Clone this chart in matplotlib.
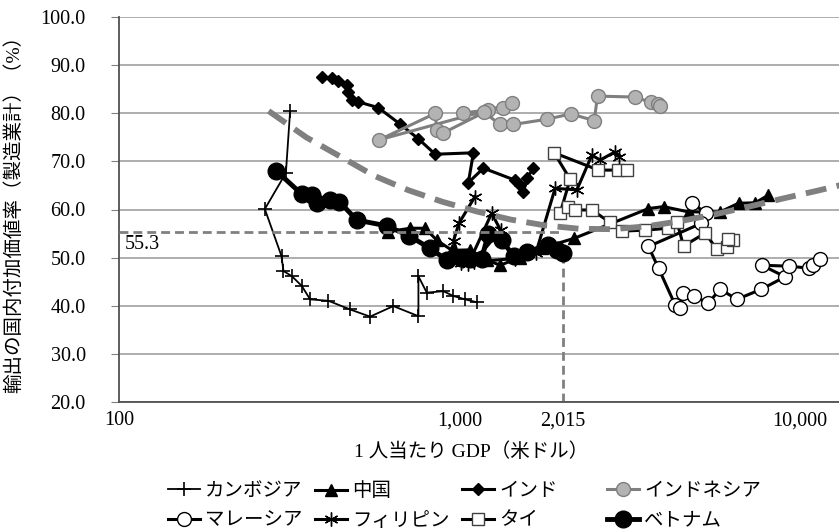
import numpy as np
import matplotlib
matplotlib.use("Agg")
import matplotlib.pyplot as plt
from matplotlib.ticker import FormatStrFormatter, NullLocator

plt.rcParams['font.family'] = ['Liberation Serif', 'Noto Sans CJK JP']

# 1人当たりGDP (米ドル) と 輸出の国内付加価値率 (%)
cam_x = [318, 309, 268, 300, 304, 322, 344, 364, 412, 477, 546, 639, 757, 757, 801, 896, 959, 1038, 1123]
cam_y = [80.5, 67.6, 60.1, 50.3, 47.2, 46.1, 44.1, 41.3, 41.0, 39.2, 37.7, 39.9, 37.8, 46.1, 42.7, 43.0, 42.0, 41.3, 40.7]

chn_x = [618, 716, 793, 857, 950, 1074, 1200, 1316, 1500, 1750, 2170, 3586, 3970, 4700, 5820, 6590, 7380, 8070]
chn_y = [55.4, 56.1, 56.1, 53.6, 51.5, 51.6, 49.5, 48.4, 50.0, 52.0, 54.0, 60.2, 60.6, 59.5, 59.5, 61.3, 61.4, 63.0]

ind_x = [394, 421, 441, 466, 471, 482, 504, 577, 668, 757, 848, 1098, 1061, 1175, 1455, 1506, 1540, 1575, 1648]
ind_y = [87.6, 87.3, 86.8, 85.9, 84.5, 82.8, 82.4, 81.2, 77.8, 74.7, 71.5, 71.8, 65.6, 68.6, 66.1, 65.1, 63.7, 66.5, 68.6]

idn_x = [1026, 1345, 1422, 1215, 581, 848, 857, 893, 1180, 1315, 1438, 1811, 2121, 2484, 2541, 3277, 3643, 3836, 3870]
idn_y = [80.1, 81.1, 82.1, 80.7, 74.5, 80.0, 76.5, 75.9, 80.2, 77.7, 77.7, 78.8, 79.9, 78.5, 83.6, 83.4, 82.3, 81.9, 81.6]

mys_x = [4808, 5297, 5120, 3585, 3837, 4297, 4442, 4543, 4862, 5380, 5823, 6520, 7685, 9036, 7710, 9300, 10580, 10940, 11450]
mys_y = [61.4, 59.2, 57.1, 52.3, 47.8, 40.1, 39.4, 42.7, 41.9, 40.6, 43.4, 41.3, 43.4, 46.0, 48.4, 48.2, 47.8, 48.5, 49.6]

phl_x = [1110, 995, 960, 1010, 1030, 1060, 1242, 1320, 1100, 1455, 1674, 1907, 2210, 2445, 2586, 2862, 2946]
phl_y = [62.7, 57.1, 53.5, 48.8, 49.5, 48.6, 59.2, 55.7, 49.1, 49.8, 50.9, 64.4, 64.1, 71.3, 70.3, 72.0, 71.0]

tha_x = [2927, 3100, 2557, 1895, 2111, 1972, 2087, 2183, 2445, 2766, 2993, 3506, 4100, 4343, 4545, 5265, 5690, 6090, 6370, 6150]
tha_y = [68.2, 68.2, 68.2, 71.8, 66.3, 59.2, 60.6, 59.9, 59.9, 57.3, 55.5, 55.7, 56.1, 57.5, 52.4, 55.1, 51.7, 52.1, 53.7, 53.9]

vnm_x = [289, 344, 368, 381, 417, 444, 499, 611, 712, 819, 917, 1010, 1074, 1161, 1215, 1331, 1440, 1575, 1823, 1929, 2015]
vnm_y = [68.1, 63.2, 63.0, 61.3, 62.0, 61.6, 57.8, 56.6, 54.5, 51.9, 49.5, 50.0, 49.6, 49.8, 55.0, 53.6, 50.3, 51.2, 52.6, 51.6, 50.9]

# 近似曲線 (読み取り値)
trend_x = [275, 355, 447, 562, 708, 891, 1122, 1413, 1778, 2239, 2818, 3548, 4467, 5623, 7079, 8913, 11220, 13180]
trend_y = [80.5, 75.0, 71.0, 67.0, 64.0, 61.6, 59.6, 57.9, 56.7, 56.0, 55.9, 56.5, 57.6, 59.0, 60.6, 62.3, 63.9, 65.1]

ref_gdp = 2015
ref_val = 55.3

names = ['カンボジア', '中国', 'インド', 'インドネシア', 'マレーシア', 'フィリピン', 'タイ', 'ベトナム']

fig = plt.figure(figsize=(8.39, 5.29), dpi=100)
ax = fig.add_axes([119/839, 1-401.7/529, 720/839, 384.4/529])
ax.set_xscale('log')

h = []
h += ax.plot(cam_x, cam_y, color='black', lw=1.3, marker='+', ms=10, mew=1.2)
h += ax.plot(chn_x, chn_y, color='black', lw=2.2, marker='^', ms=8)
h += ax.plot(ind_x, ind_y, color='black', lw=2.2, marker='D', ms=6.5)
h += ax.plot(idn_x, idn_y, color='#7f7f7f', lw=2.2, marker='o', ms=10, mfc='#b3b3b3', mec='#7f7f7f', mew=1)
h += ax.plot(mys_x, mys_y, color='black', lw=2.2, marker='o', ms=10, mfc='white', mec='black', mew=1)
h += ax.plot(phl_x, phl_y, color='black', lw=2.2, marker=(6, 2, 0), ms=10, mew=1)
h += ax.plot(tha_x, tha_y, color='black', lw=2.2, marker='s', ms=9, mfc='white', mec='#404040', mew=1)
h += ax.plot(vnm_x, vnm_y, color='black', lw=3.5, marker='o', ms=12)
for line, n in zip(h, names):
    line.set_label(n)

# 近似曲線と基準線
ax.plot(trend_x, trend_y, color='#808080', lw=4.2, dashes=(3.6, 1.8), zorder=5)
ax.plot([100, ref_gdp], [ref_val, ref_val], color='#808080', lw=2, dashes=(3.2, 1.8), zorder=5)
ax.plot([ref_gdp, ref_gdp], [20, vnm_y[-1]], color='#808080', lw=2, dashes=(3.2, 1.8), zorder=1.5)
ax.text(104, 54.6, '55.3', ha='left', va='top', fontsize=14.5)

ax.set_xlim(100, 13000)
ax.set_ylim(20, 100)
ax.set_xticks([100, 1000, ref_gdp, 10000])
ax.set_xticklabels(['100', '1,000', '2,015', '10,000'])
ax.xaxis.set_minor_locator(NullLocator())
ax.set_yticks(np.arange(20, 101, 10))
ax.yaxis.set_major_formatter(FormatStrFormatter('%.1f'))
ax.yaxis.grid(True, color='#a0a0a0', lw=1.2)
ax.set_axisbelow(True)
ax.tick_params(axis='y', direction='out', length=6, color='#808080', pad=18, labelsize=14.5)
ax.tick_params(axis='x', length=0, pad=7, labelsize=14.5)
for s in ['top', 'right']:
    ax.spines[s].set_visible(False)
ax.spines['left'].set_color('#505050')
ax.spines['bottom'].set_color('#505050')
ax.spines['left'].set_linewidth(1.3)
ax.spines['bottom'].set_linewidth(1.3)

ax.set_ylabel('輸出の国内付加価値率（製造業計）（%）', fontsize=14)
ax.yaxis.set_label_coords(-0.133, 0.5)
ax.set_xlabel('1 人当たり GDP（米ドル）', fontsize=14, va='center')
ax.xaxis.set_label_coords(0.489, -0.13)

# 凡例 (4列を等間隔で)
col_x = [168/839, 315/839, 462/839, 607/839]
for i in range(4):
    fig.legend(handles=[h[i], h[i+4]], loc='upper left', bbox_to_anchor=(col_x[i], 0.088),
               frameon=False, fontsize=14, borderpad=0, borderaxespad=0,
               handlelength=1.65, handletextpad=0.26, labelspacing=0.6)

fig.savefig('out.png', dpi=100)
